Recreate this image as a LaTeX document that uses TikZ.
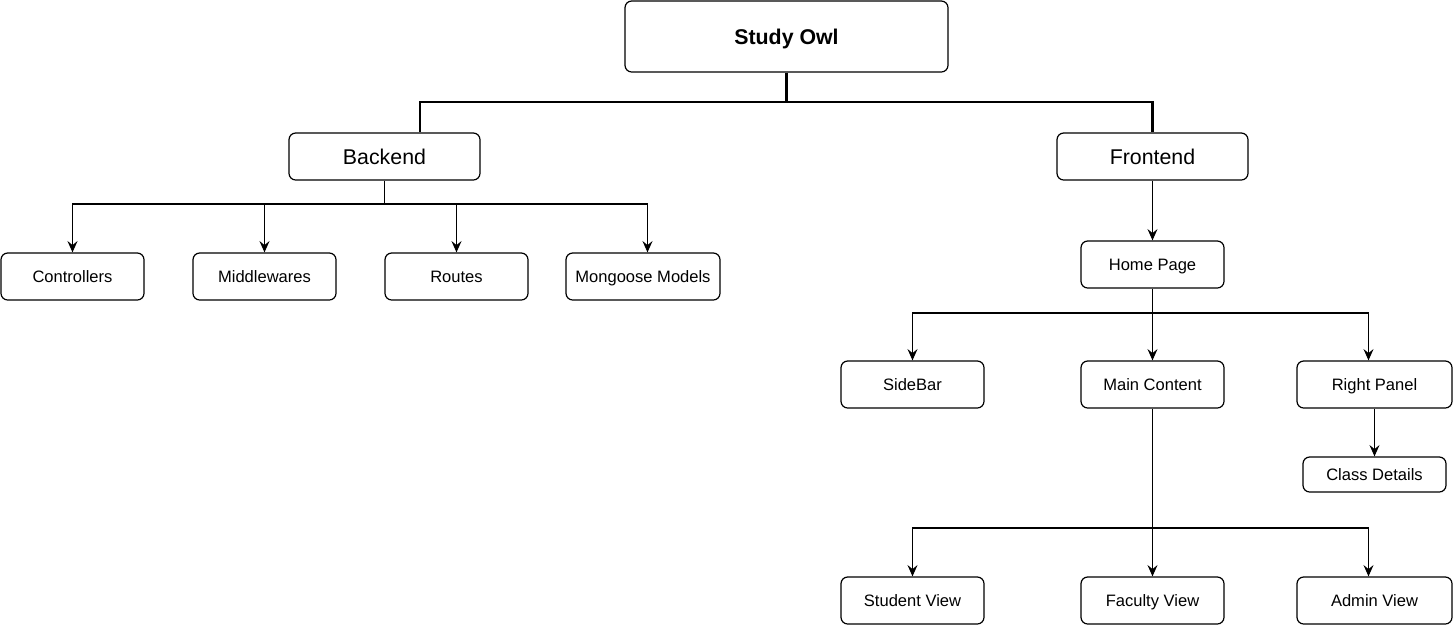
\documentclass[tikz,border=0pt]{standalone}
\usepackage{fontspec}
\setmainfont{Liberation Sans}
\usetikzlibrary{arrows.meta, positioning, calc}

\begin{document}
\begin{tikzpicture}[x=0.75pt, y=-0.75pt, line width=0.9pt,
    >={Stealth[length=8.5pt, width=7.5pt, inset=3pt]},
    box/.style={draw, rounded corners=5pt, inner sep=0pt, minimum width=107.25pt, minimum height=35.25pt,
      text height=10.5pt, text depth=1.1pt, font=\fontsize{12.4}{14}\selectfont},
    widebox/.style={box, minimum width=116.25pt},
    part/.style={box, minimum width=143.25pt, text height=13.5pt, text depth=0.8pt, font=\fontsize{16}{19}\selectfont},
    trunk/.style={line width=1.8pt}]
    % Fix the margins of the page
    \useasboundingbox (0,0) rectangle (1454,626);

    % Root
    \node[part, minimum width=242.25pt, minimum height=53.25pt, font=\fontsize{16}{19}\selectfont\bfseries] (owl) at (786.5,36.5) {Study Owl};

    % Backend and Frontend
    \node[part] (backend) at (384.5,156.5) {Backend};
    \node[part] (frontend) at (1152.5,156.5) {Frontend};

    % Backend parts
    \node[box] (ctrl) at (72.5,276.5) {Controllers};
    \node[box] (middle) at (264.5,276.5) {Middlewares};
    \node[box] (routes) at (456.5,276.5) {Routes};
    \node[box, minimum width=115.5pt] (models) at (643,276.5) {Mongoose Models};

    % Frontend parts
    \node[box] (home) at (1152.5,264.5) {Home Page};
    \node[box] (sidebar) at (912.5,384.5) {SideBar};
    \node[box] (main) at (1152.5,384.5) {Main Content};
    \node[widebox] (right) at (1374.5,384.5) {Right Panel};
    \node[box, minimum height=26.25pt] (details) at (1374.5,474.5) {Class Details};
    \node[box] (student) at (912.5,600.5) {Student View};
    \node[box] (faculty) at (1152.5,600.5) {Faculty View};
    \node[widebox] (admin) at (1374.5,600.5) {Admin View};

    % Bus points
    \coordinate (topbus) at (786.5,102);
    \coordinate (backbus) at (384.5,204);
    \coordinate (homebus) at (1152.5,313);
    \coordinate (mainbus) at (1152.5,528);

    % Root to Backend and Frontend
    \draw[trunk] (owl.south) -- (topbus) -| ($(backend.north)+(35.5,0)$);
    \draw[trunk] (topbus) -| (frontend.north);

    % Backend to its parts
    \draw[->] (backend.south) -- (backbus) -| (ctrl.north);
    \draw[->] (backbus) -| (middle.north);
    \draw[->] (backbus) -| (routes.north);
    \draw[->] (backbus) -| ($(models.north)+(4.5,0)$);

    % Frontend to its parts
    \draw[->] (frontend) -- (home);
    \draw[->] (home.south) -- (homebus) -| (sidebar.north);
    \draw[->] (homebus) -- (main.north);
    \draw[->] (homebus) -| ($(right.north)+(-6,0)$);
    \draw[->] (right) -- (details);

    % Main Content to the views
    \draw[->] (main.south) -- (mainbus) -| (student.north);
    \draw[->] (mainbus) -- (faculty.north);
    \draw[->] (mainbus) -| ($(admin.north)+(-6,0)$);
\end{tikzpicture}
\end{document}
